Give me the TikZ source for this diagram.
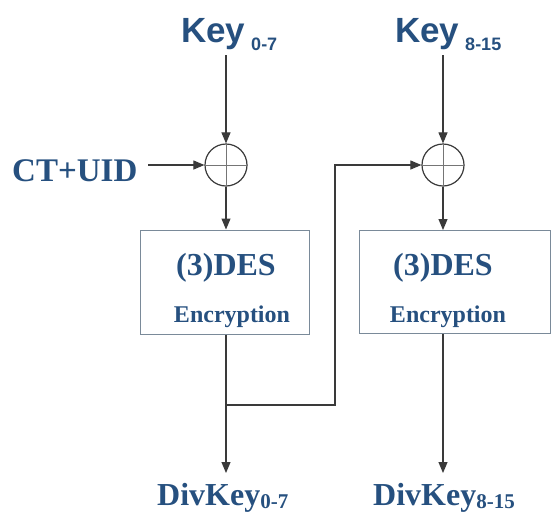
\documentclass[tikz,border=0pt]{standalone}
\usepackage{fontspec}
\setmainfont{Liberation Serif}
\newfontfamily\keyfont{Liberation Sans}
\usetikzlibrary{arrows.meta}
\definecolor{txtblue}{HTML}{26507F}
\definecolor{linegray}{HTML}{3A3A3A}
\definecolor{boxgray}{HTML}{7A8A99}
\begin{document}
\begin{tikzpicture}[x=1pt,y=-1pt,
  conn/.style={draw=linegray,line width=1.1pt},
  arr/.style={conn,-{Triangle[length=11pt,width=9pt]}},
  xorop/.style={circle,draw=linegray,line width=1.2pt,minimum size=42pt,inner sep=0pt,fill=white},
  encbox/.style={rectangle,draw=boxgray,line width=1pt,inner sep=0pt},
  lbl/.style={text=txtblue,inner sep=0pt,anchor=base},
  keylbl/.style={lbl,font=\keyfont\bfseries\fontsize{35}{40}\selectfont},
  serlbl/.style={lbl,font=\bfseries\fontsize{33}{38}\selectfont},
  deslbl/.style={lbl,font=\bfseries\fontsize{32}{36}\selectfont},
  enclbl/.style={lbl,font=\bfseries\fontsize{24}{28}\selectfont},
]
\useasboundingbox (0,0) rectangle (551,515);
% labels
\node[keylbl,anchor=base west] (keyA) at (181,42) {Key\,{\fontsize{18}{20}\selectfont\raisebox{-8pt}{0-7}}};
\node[keylbl,anchor=base west] (keyB) at (395,42) {Key\,{\fontsize{18}{20}\selectfont\raisebox{-8pt}{8-15}}};
\node[serlbl,anchor=base west] (ct) at (12,181) {CT+UID};
% xor
\node[xorop] (x1) at (226,165) {};
\node[xorop] (x2) at (443,165) {};
\foreach \n in {x1,x2}{
  \draw[draw=linegray!70,line width=0.8pt] (\n.north) -- (\n.south) (\n.west) -- (\n.east);
}
% boxes
\node[encbox,minimum width=169pt,minimum height=104pt] (b1) at (225,282) {};
\node[encbox,minimum width=191pt,minimum height=103pt] (b2) at (454.5,282) {};
\node[deslbl] (d1) at (226,275) {(3)DES};
\node[enclbl] (e1) at (232,322) {Encryption};
\node[deslbl] (d2) at (443,275) {(3)DES};
\node[enclbl] (e2) at (448,322) {Encryption};
% outputs
\node[deslbl,anchor=base west] (o1) at (157,505) {DivKey{\fontsize{21}{24}\selectfont\raisebox{-3pt}{0-7}}};
\node[deslbl,anchor=base west] (o2) at (373,505) {DivKey{\fontsize{21}{24}\selectfont\raisebox{-3pt}{8-15}}};
% connectors
\coordinate (kA) at (226,55);
\coordinate (kB) at (443,55);
\coordinate (ctE) at (148,165);
\coordinate (outA) at (226,473);
\coordinate (outB) at (443,473);
\coordinate (br) at (226,405);
\coordinate (brR) at (335,405);
\coordinate (brT) at (335,165);
\draw[arr] (kA) -- (x1.north);
\draw[arr] (kB) -- (x2.north);
\draw[arr] (ctE) -- (x1.west);
\draw[arr] (x1.south) -- (x1.south |- b1.north);
\draw[arr] (x2.south) -- (x2.south |- b2.north);
\draw[arr] (x1.south |- b1.south) -- (outA);
\draw[arr] (x2.south |- b2.south) -- (outB);
\draw[arr] (br) -- (brR) -- (brT) -- (x2.west);
\end{tikzpicture}
\end{document}
